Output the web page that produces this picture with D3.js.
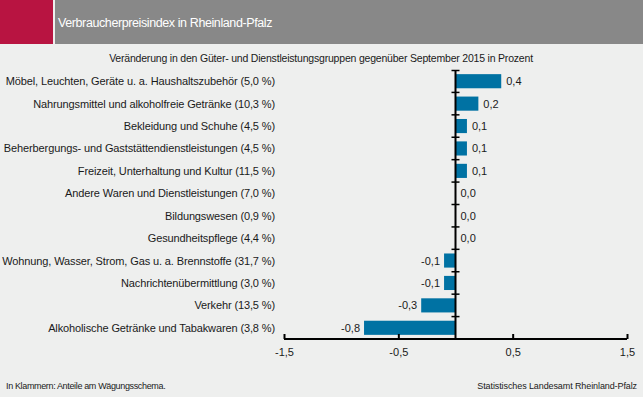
<!DOCTYPE html>
<html><head><meta charset="utf-8">
<script src="https://cdn.jsdelivr.net/npm/d3@7"></script>
<style>
body{margin:0;padding:0;background:#eeefee;}
svg{display:block;font-family:"Liberation Sans",Arial,sans-serif;}
</style></head>
<body>
<svg id="c" width="643" height="397"></svg>
<script>
const title = "Verbraucherpreisindex in Rheinland-Pfalz";
const subtitle = "Veränderung in den Güter- und Dienstleistungsgruppen gegenüber September 2015 in Prozent";
const categories = [
  "Möbel, Leuchten, Geräte u. a. Haushaltszubehör (5,0 %)",
  "Nahrungsmittel und alkoholfreie Getränke (10,3 %)",
  "Bekleidung und Schuhe (4,5 %)",
  "Beherbergungs- und Gaststättendienstleistungen (4,5 %)",
  "Freizeit, Unterhaltung und Kultur (11,5 %)",
  "Andere Waren und Dienstleistungen (7,0 %)",
  "Bildungswesen (0,9 %)",
  "Gesundheitspflege (4,4 %)",
  "Wohnung, Wasser, Strom, Gas u. a. Brennstoffe (31,7 %)",
  "Nachrichtenübermittlung (3,0 %)",
  "Verkehr (13,5 %)",
  "Alkoholische Getränke und Tabakwaren (3,8 %)"
];
const values = [0.4, 0.2, 0.1, 0.1, 0.1, 0.0, 0.0, 0.0, -0.1, -0.1, -0.3, -0.8];
const xTicks = [-1.5, -0.5, 0.5, 1.5];
const footLeft = "In Klammern: Anteile am Wägungsschema.";
const footRight = "Statistisches Landesamt Rheinland-Pfalz";

const fmt = v => d3.format(".1f")(v).replace("−","-").replace(".", ",");
const svg = d3.select("#c");

// header
svg.append("rect").attr("x",0).attr("y",0).attr("width",53).attr("height",44).attr("fill","#b81441");
svg.append("rect").attr("x",55).attr("y",0).attr("width",588).attr("height",44).attr("fill","#888888");
svg.append("text").attr("x",58).attr("y",27).attr("fill","#ffffff").attr("font-size",12.5)
  .attr("letter-spacing",-0.4).text(title);

svg.append("text").attr("x",321).attr("y",62).attr("text-anchor","middle").attr("font-size",10.5)
  .attr("fill","#1a1a1a").attr("letter-spacing",-0.2).text(subtitle);

const x = d3.scaleLinear().domain([-1.5,1.5]).range([284,627]);
const y = d3.scaleBand().domain(categories).range([70,339]).paddingInner(0.37).paddingOuter(0.185);
const yb = d3.scaleBand().domain(categories).range([70,339]);

// bars
svg.append("g").selectAll("rect").data(values).join("rect")
  .attr("x",(d)=>x(Math.min(0,d)))
  .attr("y",(d,i)=>y(categories[i]))
  .attr("width",d=>Math.abs(x(d)-x(0)))
  .attr("height",y.bandwidth())
  .attr("fill","#0072a3");

// value labels
svg.append("g").selectAll("text").data(values).join("text")
  .attr("x",d=> d<0 ? x(d)-4 : (d===0 ? x(0)+5 : x(d)+5))
  .attr("y",(d,i)=>yb(categories[i])+yb.bandwidth()/2+4)
  .attr("text-anchor",d=>d<0?"end":"start")
  .attr("font-size",11).attr("fill","#1a1a1a")
  .text(d=>fmt(d));

// category labels
svg.append("g").selectAll("text").data(categories).join("text")
  .attr("x",275)
  .attr("y",d=>yb(d)+yb.bandwidth()/2+4)
  .attr("text-anchor","end").attr("font-size",11).attr("fill","#1a1a1a")
  .attr("letter-spacing",-0.12)
  .text(d=>d);

// x axis
const xAxis = d3.axisTop(x).tickValues(xTicks).tickSize(5).tickFormat(fmt);
const gx = svg.append("g").attr("transform","translate(0,339)").call(xAxis);
gx.select(".domain").attr("stroke","#000").attr("stroke-width",2).attr("d","M284,0H627");
gx.selectAll(".tick line").attr("stroke","#000").attr("stroke-width",2);
gx.selectAll(".tick text").attr("y",17).attr("font-size",11).attr("fill","#1a1a1a")
  .attr("font-family","Liberation Sans, Arial, sans-serif");

// zero axis with ticks at band boundaries
svg.append("line").attr("x1",x(0)).attr("x2",x(0)).attr("y1",70).attr("y2",339)
  .attr("stroke","#000").attr("stroke-width",2);
svg.append("g").selectAll("line").data(categories.slice(1)).join("line")
  .attr("x1",x(0)-4).attr("x2",x(0)+4)
  .attr("y1",d=>yb(d)).attr("y2",d=>yb(d))
  .attr("stroke","#000").attr("stroke-width",1.5);
svg.append("line").attr("x1",x(0)-4).attr("x2",x(0)+4).attr("y1",70.5).attr("y2",70.5)
  .attr("stroke","#000").attr("stroke-width",1.5);

// footer
svg.append("text").attr("x",6).attr("y",389).attr("font-size",9).attr("fill","#1a1a1a")
  .attr("letter-spacing",-0.35).text(footLeft);
svg.append("text").attr("x",637).attr("y",389).attr("text-anchor","end").attr("font-size",9).attr("fill","#1a1a1a")
  .attr("letter-spacing",-0.1).text(footRight);
</script>
</body></html>
